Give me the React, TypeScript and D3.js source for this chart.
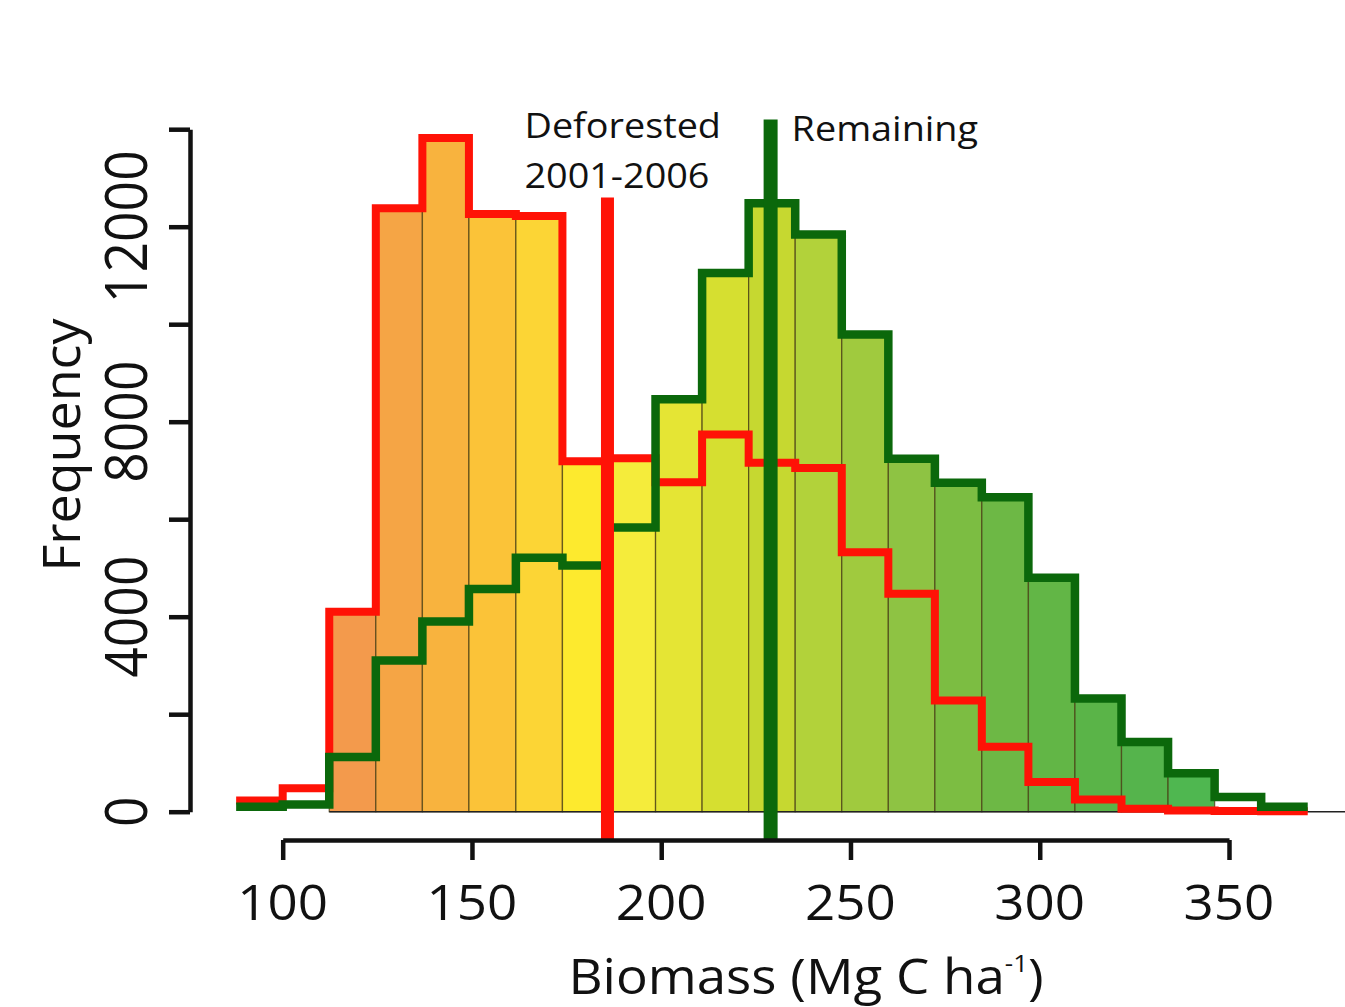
import React, { useEffect, useRef } from 'react';
import * as d3 from 'd3';

// bin edges (Mg C / ha)
const binEdges = [87.7, 100.0, 112.3, 124.6, 136.9, 149.2, 161.6, 173.9, 186.2, 198.5, 210.8, 223.1,
  235.4, 247.7, 260.0, 272.3, 284.7, 297.0, 309.3, 321.6, 333.9, 346.2, 358.5, 370.8];

// frequency per bin
const deforested = [230, 480, 4100, 12380, 13820, 12260, 12220, 7190, 7250, 6760, 7740, 7160,
  7050, 5320, 4470, 2280, 1330, 610, 250, 60, 25, 15, 10];
const remaining = [100, 150, 1120, 3100, 3900, 4570, 5210, 5050, 5830, 8460, 11050, 12480,
  11840, 9790, 7240, 6750, 6450, 4800, 2320, 1430, 790, 300, 100];

// coloured bars cover bins 2..20
const filledBins = d3.range(2, 21);
const barColors = ['#F39A4C', '#F5A545', '#F8B33E', '#FBC338', '#FCD535', '#FDEA2E', '#F5EC3B',
  '#E5E534', '#D6DF30', '#C6D830', '#B2D23A', '#A0CA3E', '#8EC343', '#7CBD42', '#6DB845',
  '#62B646', '#5AB448', '#55B44C', '#4FB750'];

const xTicks = [100, 150, 200, 250, 300, 350];
const yTicks = [0, 2000, 4000, 6000, 8000, 10000, 12000, 14000];
const yLabels = [0, 4000, 8000, 12000];

// mean markers
const deforestedMean = 185.8;
const remainingMean = 228.9;
const deforestedMarkTop = 12600;
const remainingMarkTop = 14200;
const markBottom = -580;

const W = 1345;
const H = 1007;
const RED = '#FF1206';
const GREEN = '#0B680B';
const FONT = '"Open Sans", sans-serif';
const STRETCH = 1.08; // the original figure is a little wider than tall

const App = () => {
  const svgRef = useRef<SVGSVGElement>(null);

  useEffect(() => {
    const svg = d3.select(svgRef.current);
    svg.selectAll('*').remove();

    const x = d3.scaleLinear().domain([100, 350]).range([282.7, 1229]);
    const y = d3.scaleLinear().domain([0, 14000]).range([811.7, 129.2]);

    // coloured bars: height = larger of the two series
    const bars = filledBins.map((b, i) => ({
      x0: binEdges[b],
      x1: binEdges[b + 1],
      v: Math.max(deforested[b], remaining[b]),
      color: barColors[i],
    }));

    svg.append('g')
      .selectAll('rect')
      .data(bars)
      .join('rect')
      .attr('x', d => x(d.x0))
      .attr('y', d => y(d.v))
      .attr('width', d => x(d.x1) - x(d.x0))
      .attr('height', d => y(0) - y(d.v))
      .attr('fill', d => d.color)
      .attr('stroke', '#4a3f14')
      .attr('stroke-opacity', 0.75)
      .attr('stroke-width', 1.3);

    // thin baseline to the right edge
    svg.append('line')
      .attr('x1', x(binEdges[2]))
      .attr('x2', x(381))
      .attr('y1', y(0))
      .attr('y2', y(0))
      .attr('stroke', '#222')
      .attr('stroke-width', 1.5);

    const stepLine = d3.line<[number, number]>()
      .x(d => x(d[0]))
      .y(d => y(d[1]))
      .curve(d3.curveStepAfter);

    const stepPoints = (vals: number[]): [number, number][] => {
      const pts: [number, number][] = vals.map((v, i) => [binEdges[i], v]);
      pts.push([binEdges[vals.length], vals[vals.length - 1]]);
      return pts;
    };

    svg.append('path')
      .attr('d', stepLine(stepPoints(deforested)))
      .attr('fill', 'none')
      .attr('stroke', RED)
      .attr('stroke-width', 8)
      .attr('stroke-linejoin', 'miter');

    svg.append('path')
      .attr('d', stepLine(stepPoints(remaining)))
      .attr('fill', 'none')
      .attr('stroke', GREEN)
      .attr('stroke-width', 8.5)
      .attr('stroke-linejoin', 'miter');

    // mean lines
    svg.append('line')
      .attr('x1', x(deforestedMean)).attr('x2', x(deforestedMean))
      .attr('y1', y(markBottom)).attr('y2', y(deforestedMarkTop))
      .attr('stroke', RED)
      .attr('stroke-width', 13);

    svg.append('line')
      .attr('x1', x(remainingMean)).attr('x2', x(remainingMean))
      .attr('y1', y(markBottom)).attr('y2', y(remainingMarkTop))
      .attr('stroke', GREEN)
      .attr('stroke-width', 14);

    // y axis
    const yAxis = svg.append('g')
      .attr('transform', 'translate(190,0)')
      .call(d3.axisLeft(y).tickValues(yTicks).tickSize(21).tickSizeOuter(0).tickFormat(() => ''));
    yAxis.selectAll('path, line').attr('stroke', '#111').attr('stroke-width', 4.5);

    svg.append('g')
      .selectAll('text')
      .data(yLabels)
      .join('text')
      .attr('transform', d => `translate(146.5,${y(d)}) rotate(-90) scale(1,1.09)`)
      .attr('text-anchor', 'middle')
      .style('font-family', FONT)
      .style('font-size', '53.5px')
      .attr('fill', '#111')
      .text(d => d);

    // x axis
    const xAxis = svg.append('g')
      .attr('transform', 'translate(0,840)')
      .call(d3.axisBottom(x).tickValues(xTicks).tickSize(20).tickSizeOuter(0).tickFormat(() => ''));
    xAxis.selectAll('path, line').attr('stroke', '#111').attr('stroke-width', 4.5);

    svg.append('g')
      .selectAll('text')
      .data(xTicks)
      .join('text')
      .attr('transform', d => `translate(${x(d)},920) scale(${STRETCH},1)`)
      .attr('text-anchor', 'middle')
      .style('font-family', FONT)
      .style('font-size', '49px')
      .attr('fill', '#111')
      .text(d => d);

    // axis titles
    const xTitle = svg.append('text')
      .attr('transform', `translate(806,994) scale(${STRETCH},1)`)
      .attr('text-anchor', 'middle')
      .style('font-family', FONT)
      .style('font-size', '49px')
      .attr('fill', '#111');
    xTitle.append('tspan').text('Biomass (Mg C ha');
    xTitle.append('tspan').attr('dy', -22).style('font-size', '24px').text('-1');
    xTitle.append('tspan').attr('dy', 22).text(')');

    svg.append('text')
      .attr('transform', 'translate(80,445) rotate(-90)')
      .attr('text-anchor', 'middle')
      .style('font-family', FONT)
      .style('font-size', '52px')
      .attr('fill', '#111')
      .text('Frequency');

    // annotations
    const ann = svg.append('g')
      .style('font-family', FONT)
      .style('font-size', '35px')
      .attr('fill', '#111');
    const annotate = (px: number, py: number, label: string) =>
      ann.append('text')
        .attr('transform', `translate(${px},${py}) scale(${STRETCH},1)`)
        .text(label);
    annotate(x(deforestedMean) - 83, 138, 'Deforested');
    annotate(x(deforestedMean) - 83, 188, '2001-2006');
    annotate(x(remainingMean) + 21, 141, 'Remaining');
  }, []);

  return (
    <div style={{ position: 'absolute', left: 0, top: 0 }}>
      <svg ref={svgRef} width={W} height={H} style={{ display: 'block', background: '#fff' }} />
    </div>
  );
};

export default App;
